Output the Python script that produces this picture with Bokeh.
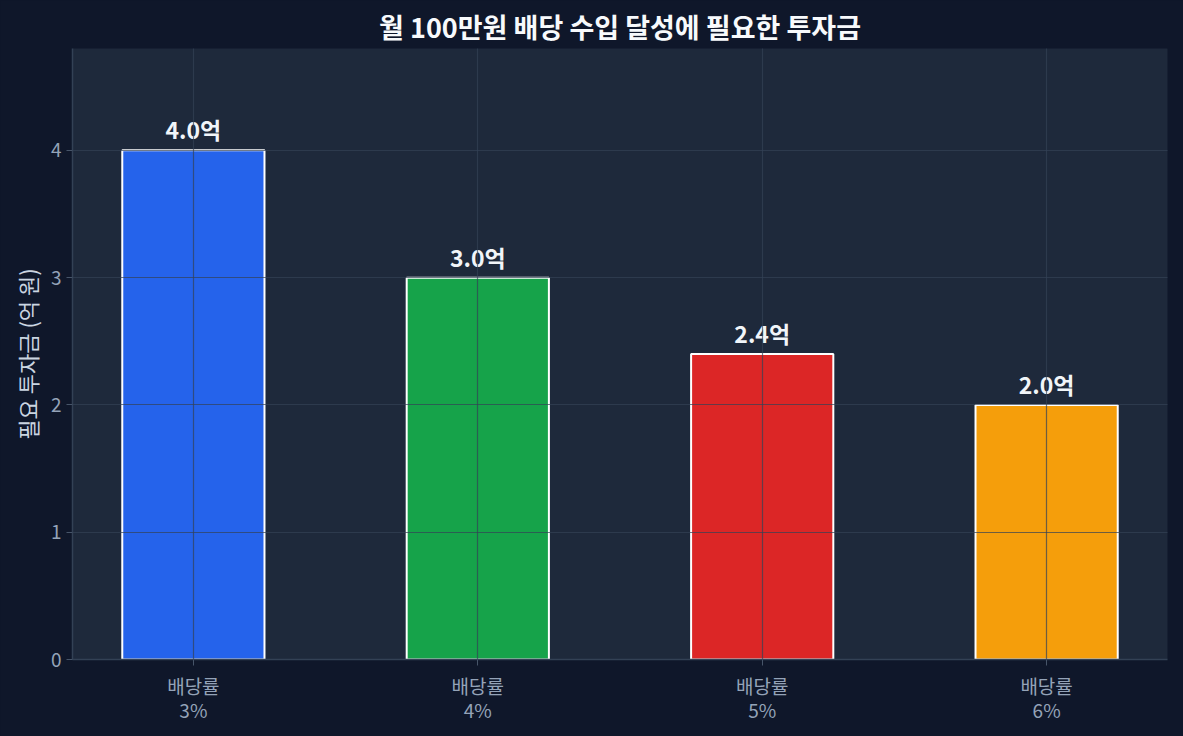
from bokeh.plotting import figure
from bokeh.models import ColumnDataSource, FixedTicker, Range1d, LabelSet
from bokeh.core.properties import value
from bokeh.embed import file_html
from bokeh.resources import INLINE

categories = ["배당률\n3%", "배당률\n4%", "배당률\n5%", "배당률\n6%"]
values = [4.0, 3.0, 2.4, 2.0]
labels = ["4.0억", "3.0억", "2.4억", "2.0억"]
colors = ["#2563eb", "#16a34a", "#dc2626", "#f59e0b"]
y_ticks = [0, 1, 2, 3, 4]

FONT = "Noto Sans CJK KR"
xs = list(range(len(categories)))
src = ColumnDataSource(dict(x=xs, top=values, color=colors, label=labels))

p = figure(width=1183, height=736, output_backend="svg", toolbar_location=None,
           x_range=Range1d(-0.425, len(categories) - 1 + 0.425),
           y_range=Range1d(0, max(values) * 1.2),
           min_border_left=72, min_border_right=16, min_border_top=48, min_border_bottom=77)

p.background_fill_color = "#1e293b"
p.border_fill_color = "#0f172a"
p.outline_line_color = None

p.vbar(x="x", top="top", width=0.5, bottom=0, fill_color="color",
       line_color="white", line_width=2, source=src)

p.add_layout(LabelSet(x="x", y="top", text="label", source=src, text_align="center",
                      text_baseline="bottom", y_offset=4, text_color="#f1f5f9",
                      text_font=value(FONT), text_font_size="23px", text_font_style="bold"))

p.title.text = "월 100만원 배당 수입 달성에 필요한 투자금"
p.title.align = "center"
p.title.text_color = "#f8fafc"
p.title.text_font = FONT
p.title.text_font_size = "27px"
p.title.text_font_style = "bold"
p.title.standoff = 5

p.xaxis.ticker = FixedTicker(ticks=xs)
p.xaxis.major_label_overrides = {i: c for i, c in enumerate(categories)}
p.xaxis.major_label_standoff = 6
p.xaxis.major_label_text_line_height = 0.9
p.yaxis.ticker = FixedTicker(ticks=y_ticks)
p.yaxis.axis_label = "필요 투자금 (억 원)"

for ax in (p.xaxis[0], p.yaxis[0]):
    ax.axis_line_color = "#334155"
    ax.axis_line_width = 1.5
    ax.major_tick_line_color = "#475569"
    ax.major_tick_in = 0
    ax.major_tick_out = 6
    ax.minor_tick_line_color = None
    ax.major_label_text_color = "#94a3b8"
    ax.major_label_text_font = FONT
    ax.major_label_text_font_size = "19px"
    ax.axis_label_text_color = "#cbd5e1"
    ax.axis_label_text_font = FONT
    ax.axis_label_text_font_size = "22px"
    ax.axis_label_text_font_style = "normal"

for g in (p.xgrid[0], p.ygrid[0]):
    g.grid_line_color = "#334155"
    g.grid_line_alpha = 0.7
    g.grid_line_width = 1.2
    g.level = "overlay"

html = file_html(p, INLINE)
html = html.replace("<head>", "<head><style>html,body{background:#0f172a;margin:0;padding:0;overflow:hidden;}</style>", 1)
open("out.html", "w").write(html)
